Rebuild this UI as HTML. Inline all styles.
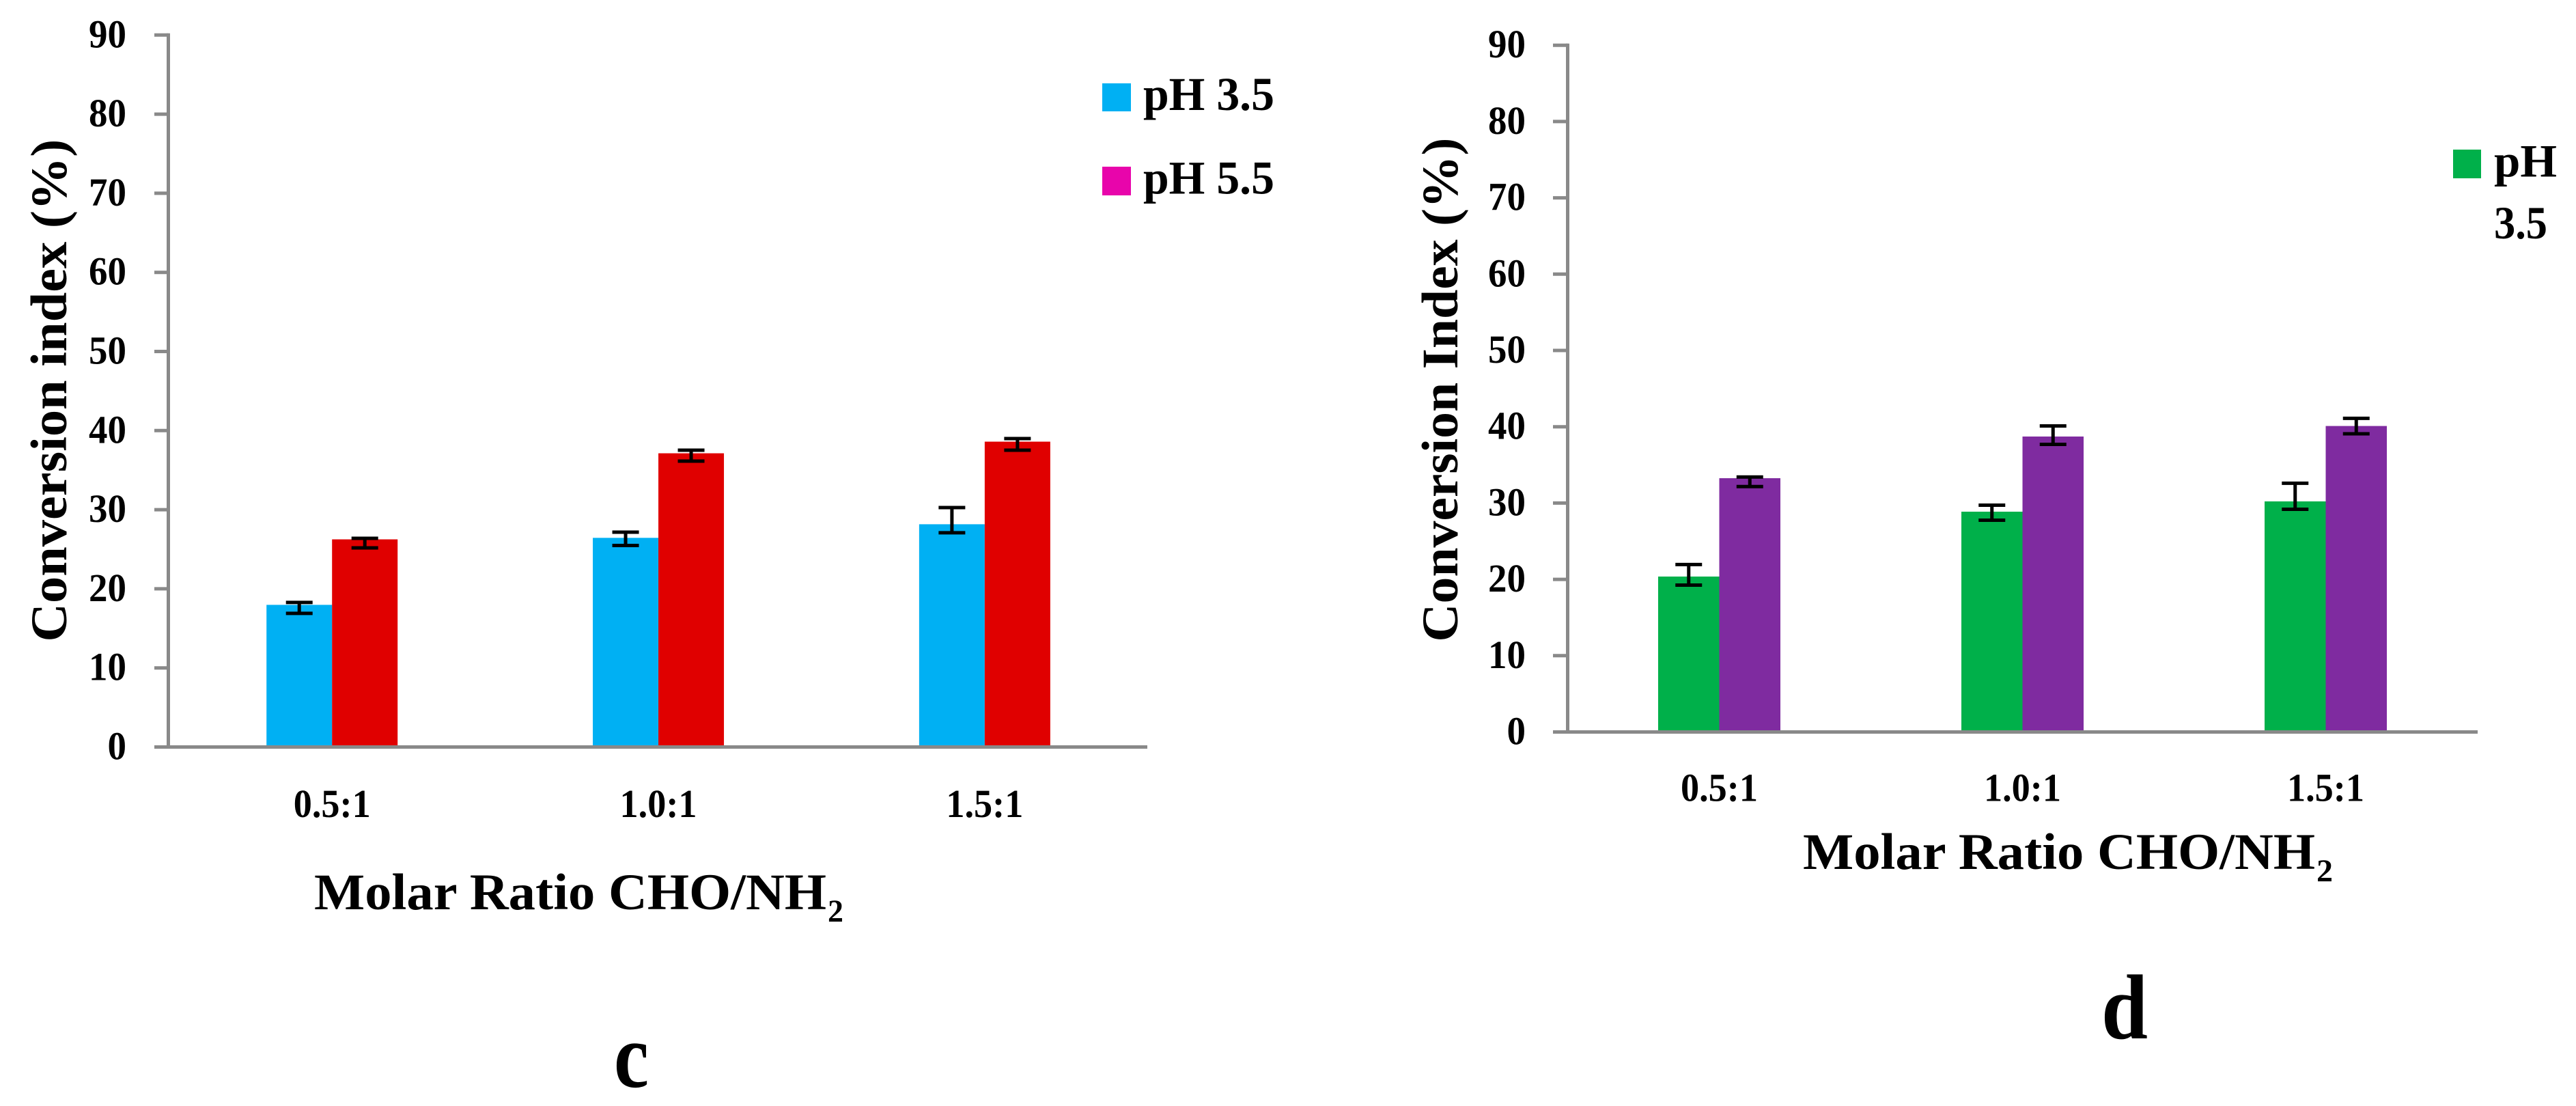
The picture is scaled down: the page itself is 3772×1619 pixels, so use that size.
<!DOCTYPE html>
<html lang="en">
<head>
<meta charset="utf-8">
<title>Conversion index vs molar ratio, panels c and d</title>
<style>
  html, body { margin: 0; padding: 0; background: #ffffff; }
  svg { display: block; }
  text { font-family: "Liberation Serif", serif; font-weight: bold; fill: #000000; }
</style>
</head>
<body>
<svg id="figure" xmlns="http://www.w3.org/2000/svg" width="3772" height="1619" viewBox="0 0 3772 1619">
  <rect x="0" y="0" width="3772" height="1619" fill="#ffffff"/>

  <g id="panel-c">
    <text transform="translate(97,939.6) rotate(-90)" font-size="75" textLength="736" lengthAdjust="spacingAndGlyphs">Conversion index (%)</text>
    <text x="460" y="1331" font-size="75" textLength="750" lengthAdjust="spacingAndGlyphs">Molar Ratio CHO/NH</text>
    <text x="1212" y="1349" font-size="47" textLength="23" lengthAdjust="spacingAndGlyphs">2</text>
    <rect x="1614" y="122" width="42" height="41" fill="#00B0F3"/>
    <text x="1674" y="161" font-size="69" textLength="192" lengthAdjust="spacingAndGlyphs">pH 3.5</text>
    <rect x="1614" y="244" width="42" height="42" fill="#E805AB"/>
    <text x="1674" y="283.7" font-size="69" textLength="192" lengthAdjust="spacingAndGlyphs">pH 5.5</text>
    <text x="899" y="1591" font-size="135" textLength="51" lengthAdjust="spacingAndGlyphs">c</text>
  </g>

  <g id="panel-d">
    <text transform="translate(2134,939.6) rotate(-90)" font-size="75" textLength="738" lengthAdjust="spacingAndGlyphs">Conversion Index (%)</text>
    <text x="2640" y="1272" font-size="75" textLength="750" lengthAdjust="spacingAndGlyphs">Molar Ratio CHO/NH</text>
    <text x="3392" y="1290" font-size="47" textLength="24" lengthAdjust="spacingAndGlyphs">2</text>
    <rect x="3592" y="219" width="41" height="42" fill="#00B04A"/>
    <text x="3652" y="258.3" font-size="68" textLength="92" lengthAdjust="spacingAndGlyphs">pH</text>
    <text x="3652" y="349" font-size="68" textLength="78" lengthAdjust="spacingAndGlyphs">3.5</text>
    <text x="3077" y="1520" font-size="135" textLength="68" lengthAdjust="spacingAndGlyphs">d</text>
  </g>
</svg>

<script>
// ---- chart data ----
const yTickValues = [0, 10, 20, 30, 40, 50, 60, 70, 80, 90];
const categories = ['0.5:1', '1.0:1', '1.5:1'];

const panelCLowValues = [17.97, 26.44, 28.16];
const panelCHighValues = [26.25, 37.13, 38.6];
const panelCLowErrUpper = [18.27, 27.16, 30.27];
const panelCLowErrLower = [16.89, 25.48, 27.08];
const panelCHighErrUpper = [26.38, 37.52, 38.99];
const panelCHighErrLower = [25.17, 36.14, 37.52];

const panelDLowValues = [20.37, 28.87, 30.22];
const panelDHighValues = [33.26, 38.72, 40.1];
const panelDLowErrUpper = [21.95, 29.72, 32.6];
const panelDLowErrLower = [19.25, 27.75, 29.19];
const panelDHighErrUpper = [33.41, 40.11, 41.1];
const panelDHighErrLower = [32.16, 37.69, 39.08];

const NS = 'http://www.w3.org/2000/svg';

function makeScales(plotLeft, plotRight, y0, y90) {
  const band = (plotRight - plotLeft) / categories.length;
  return {
    xCenter: function (i) { return plotLeft + band * (i + 0.5); },
    y: function (v) { return y0 + (y90 - y0) * (v / 90); }
  };
}

function create(parent, tag, props) {
  const el = document.createElementNS(NS, tag);
  for (const k in props) el.setAttribute(k, props[k]);
  parent.appendChild(el);
  return el;
}

function drawPanel(cfg) {
  const g = document.getElementById(cfg.id);
  const sc = makeScales(cfg.plotLeft, cfg.plotRight, cfg.y0, cfg.y90);

  // bars and error bars
  cfg.series.forEach(function (s, si) {
    s.values.forEach(function (v, i) {
      const cx = sc.xCenter(i);
      const left = si === 0 ? cx - cfg.barWidth : cx;
      const top = sc.y(v);
      const bar = create(g, 'rect', { x: left, y: top, width: cfg.barWidth, height: sc.y(0) - top, fill: s.color });
      
      

      const mid = left + cfg.barWidth / 2;
      const yHi = sc.y(s.upper[i]);
      const yLo = sc.y(s.lower[i]);
      const err = create(g, 'path', {
        d: 'M' + (mid - cfg.capHalf) + ' ' + yHi + 'H' + (mid + cfg.capHalf) +
           'M' + mid + ' ' + yHi + 'V' + yLo +
           'M' + (mid - cfg.capHalf) + ' ' + yLo + 'H' + (mid + cfg.capHalf),
        fill: 'none', stroke: '#000000', 'stroke-width': 5
      });
      
      
    });
  });

  // axes
  const yAxis = create(g, 'line', { x1: cfg.axisX, y1: sc.y(90) - 2.5, x2: cfg.axisX, y2: sc.y(0), stroke: '#898989', 'stroke-width': 5 });
  
  

  const xAxis = create(g, 'line', { x1: cfg.tickLeft, y1: sc.y(0), x2: cfg.axisRight, y2: sc.y(0), stroke: '#898989', 'stroke-width': 5 });
  
  

  // y ticks and labels
  yTickValues.forEach(function (t) {
    const tick = create(g, 'line', { x1: cfg.tickLeft, y1: sc.y(t), x2: cfg.axisX, y2: sc.y(t), stroke: '#898989', 'stroke-width': 5 });
    
    

    const str = String(t);
    const lab = create(g, 'text', {
      x: cfg.yLabelRight, y: sc.y(t) + 18, 'font-size': 58, 'text-anchor': 'end',
      textLength: 27.5 * str.length, lengthAdjust: 'spacingAndGlyphs'
    });
    lab.textContent = str;
    
    
  });

  // category labels
  categories.forEach(function (c, i) {
    const lab = create(g, 'text', {
      x: sc.xCenter(i), y: cfg.catBaseline, 'font-size': 58, 'text-anchor': 'middle',
      textLength: 113, lengthAdjust: 'spacingAndGlyphs'
    });
    lab.textContent = c;
    
    
  });
}

drawPanel({
  id: 'panel-c', tag: 'c',
  plotLeft: 247.3, plotRight: 1680.8, axisX: 246.5, axisRight: 1680, tickLeft: 226,
  y0: 1093.5, y90: 51.3, barWidth: 96, capHalf: 19.5, yLabelRight: 185, catBaseline: 1196,
  series: [
    { key: 'ph-3-5', color: '#00B0F3', values: panelCLowValues, upper: panelCLowErrUpper, lower: panelCLowErrLower },
    { key: 'ph-5-5', color: '#E00000', values: panelCHighValues, upper: panelCHighErrUpper, lower: panelCHighErrLower }
  ]
});

drawPanel({
  id: 'panel-d', tag: 'd',
  plotLeft: 2295.5, plotRight: 3627.5, axisX: 2295.5, axisRight: 3628, tickLeft: 2274,
  y0: 1071.5, y90: 66.2, barWidth: 89.5, capHalf: 19.5, yLabelRight: 2234, catBaseline: 1172.7,
  series: [
    { key: 'ph-3-5', color: '#00B04A', values: panelDLowValues, upper: panelDLowErrUpper, lower: panelDLowErrLower },
    { key: 'ph-5-5', color: '#7F2BA0', values: panelDHighValues, upper: panelDHighErrUpper, lower: panelDHighErrLower }
  ]
});
</script>
</body>
</html>
